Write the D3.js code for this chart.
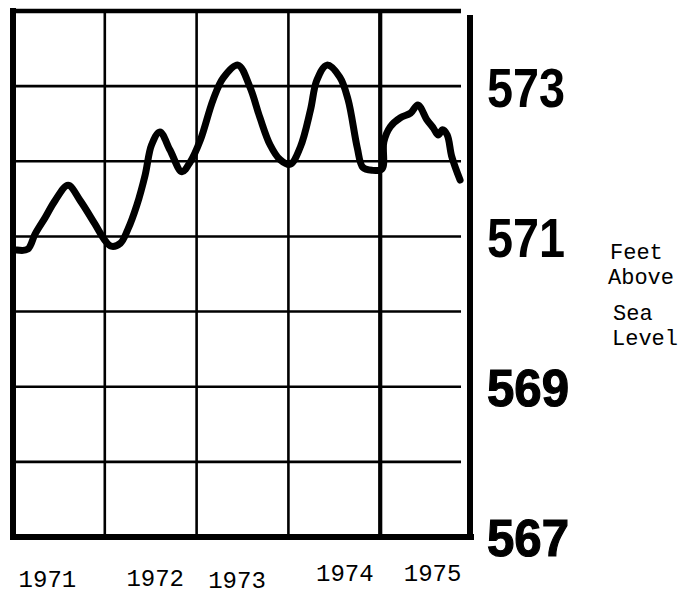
<!DOCTYPE html>
<html>
<head>
<meta charset="utf-8">
<script src="https://cdn.jsdelivr.net/npm/d3@7"></script>
<style>
  html, body { margin: 0; padding: 0; background: #fff; }
  svg { display: block; }
</style>
</head>
<body>
<script>
// ---- data ----
const years = [1971, 1972, 1973, 1974, 1975];
const levelTicks = [567, 569, 571, 573];
const unitLines = ["Feet", "Above", "Sea", "Level"];
// time (decimal year) and lake level (feet above sea level)
const time = [1971.04, 1971.16, 1971.24, 1971.35, 1971.46, 1971.60, 1971.73, 1971.89, 1972.00, 1972.07,
  1972.17, 1972.25, 1972.35, 1972.44, 1972.51, 1972.60, 1972.71, 1972.84, 1972.93, 1973.04,
  1973.18, 1973.29, 1973.45, 1973.58, 1973.69, 1973.80, 1973.91, 1974.02, 1974.13, 1974.24,
  1974.31, 1974.42, 1974.56, 1974.65, 1974.75, 1974.81, 1974.91, 1975.02, 1975.04, 1975.11,
  1975.22, 1975.33, 1975.41, 1975.51, 1975.58, 1975.63, 1975.68, 1975.73, 1975.78, 1975.87];
const level = [570.82, 570.83, 571.03, 571.25, 571.48, 571.68, 571.48, 571.17, 570.95, 570.87,
  570.91, 571.09, 571.42, 571.82, 572.22, 572.39, 572.15, 571.86, 571.99, 572.28,
  572.82, 573.11, 573.28, 572.99, 572.58, 572.22, 572.02, 571.96, 572.19, 572.68,
  573.08, 573.28, 573.12, 572.82, 572.18, 571.92, 571.88, 571.90, 572.26, 572.46,
  572.58, 572.64, 572.75, 572.55, 572.44, 572.35, 572.42, 572.35, 572.06, 571.75];

// ---- layout ----
const W = 692, H = 595;
const svg = d3.select("body").append("svg").attr("width", W).attr("height", H);

const x = d3.scaleLinear().domain([1971, 1975.88]).range([13, 461]);
const y = d3.scaleLinear().domain([567, 574]).range([537, 11]);

const grid = svg.append("g").attr("stroke", "#000").attr("fill", "none");

// horizontal grid lines (one per foot)
const feet = d3.range(567, 575);
grid.selectAll("line.h").data(feet).join("line")
  .attr("class", "h")
  .attr("x1", x(1971) - 3)
  .attr("x2", d => d === 567 ? 474 : x.range()[1])
  .attr("y1", d => y(d)).attr("y2", d => y(d))
  .attr("stroke-width", d => d === 567 ? 6 : d === 574 ? 4.5 : 2.6);

// vertical year lines
grid.selectAll("line.v").data(years).join("line")
  .attr("class", "v")
  .attr("x1", d => x(d)).attr("x2", d => x(d))
  .attr("y1", d => y(574) - (d === 1971 ? 3 : 0))
  .attr("y2", d => y(567) + (d === 1971 ? 3 : 0))
  .attr("stroke-width", d => d === 1971 ? 6 : d === 1975 ? 4.2 : 2.6);

// right-hand axis rule
grid.append("path")
  .attr("d", `M470,${y(574) + 4} L470,${y(567) - 3} Q470,${y(567)} 466,${y(567)}`)
  .attr("stroke-width", 6);

// lake level curve
const line = d3.line()
  .x((d, i) => x(time[i]))
  .y(d => y(d))
  .curve(d3.curveCatmullRom.alpha(0.5));
svg.append("path")
  .datum(level)
  .attr("d", line)
  .attr("fill", "none")
  .attr("stroke", "#000")
  .attr("stroke-width", 7)
  .attr("stroke-linejoin", "round")
  .attr("stroke-linecap", "round");

// right axis labels
const yAxis = d3.axisRight(y).tickValues(levelTicks).tickSize(0).tickPadding(0)
  .tickFormat(d3.format("d"));
const gy = svg.append("g").attr("transform", "translate(487,0)").call(yAxis);
gy.select(".domain").remove();
gy.selectAll(".tick text")
  .attr("fill", "#000")
  .attr("font-weight", "bold")
  .attr("dy", "0.36em")
  .attr("font-family", "'Liberation Sans', Arial, sans-serif")
  .attr("font-size", d => d >= 571 ? 56 : 51)
  .attr("textLength", d => d >= 571 ? 78 : 82)
  .attr("lengthAdjust", "spacingAndGlyphs")
  .attr("stroke", d => d >= 571 ? "none" : "#000")
  .attr("stroke-width", 1.2);

// bottom year labels
const labelNudge = [[-12, 0], [4, -1], [-6, 1], [10, -6], [6, -6]];
const xAxis = d3.axisBottom(x).tickValues(years.map(d => d + 0.5)).tickSize(0).tickPadding(0)
  .tickFormat(d => String(Math.floor(d)));
const gx = svg.append("g").call(xAxis);
gx.select(".domain").remove();
gx.selectAll(".tick text")
  .attr("fill", "#000")
  .attr("font-family", "'Liberation Mono', 'Courier New', monospace")
  .attr("font-size", 24)
  .attr("dy", 0)
  .attr("x", (d, i) => labelNudge[i][0])
  .attr("y", (d, i) => 587 + labelNudge[i][1]);

// unit caption
const capX = [610, 608, 613, 612];
const capY = [259, 284, 320, 345];
svg.append("g").selectAll("text").data(unitLines).join("text")
  .attr("x", (d, i) => capX[i])
  .attr("y", (d, i) => capY[i])
  .attr("font-family", "'Liberation Mono', 'Courier New', monospace")
  .attr("font-size", 22)
  .attr("fill", "#000")
  .text(d => d);
</script>
</body>
</html>
